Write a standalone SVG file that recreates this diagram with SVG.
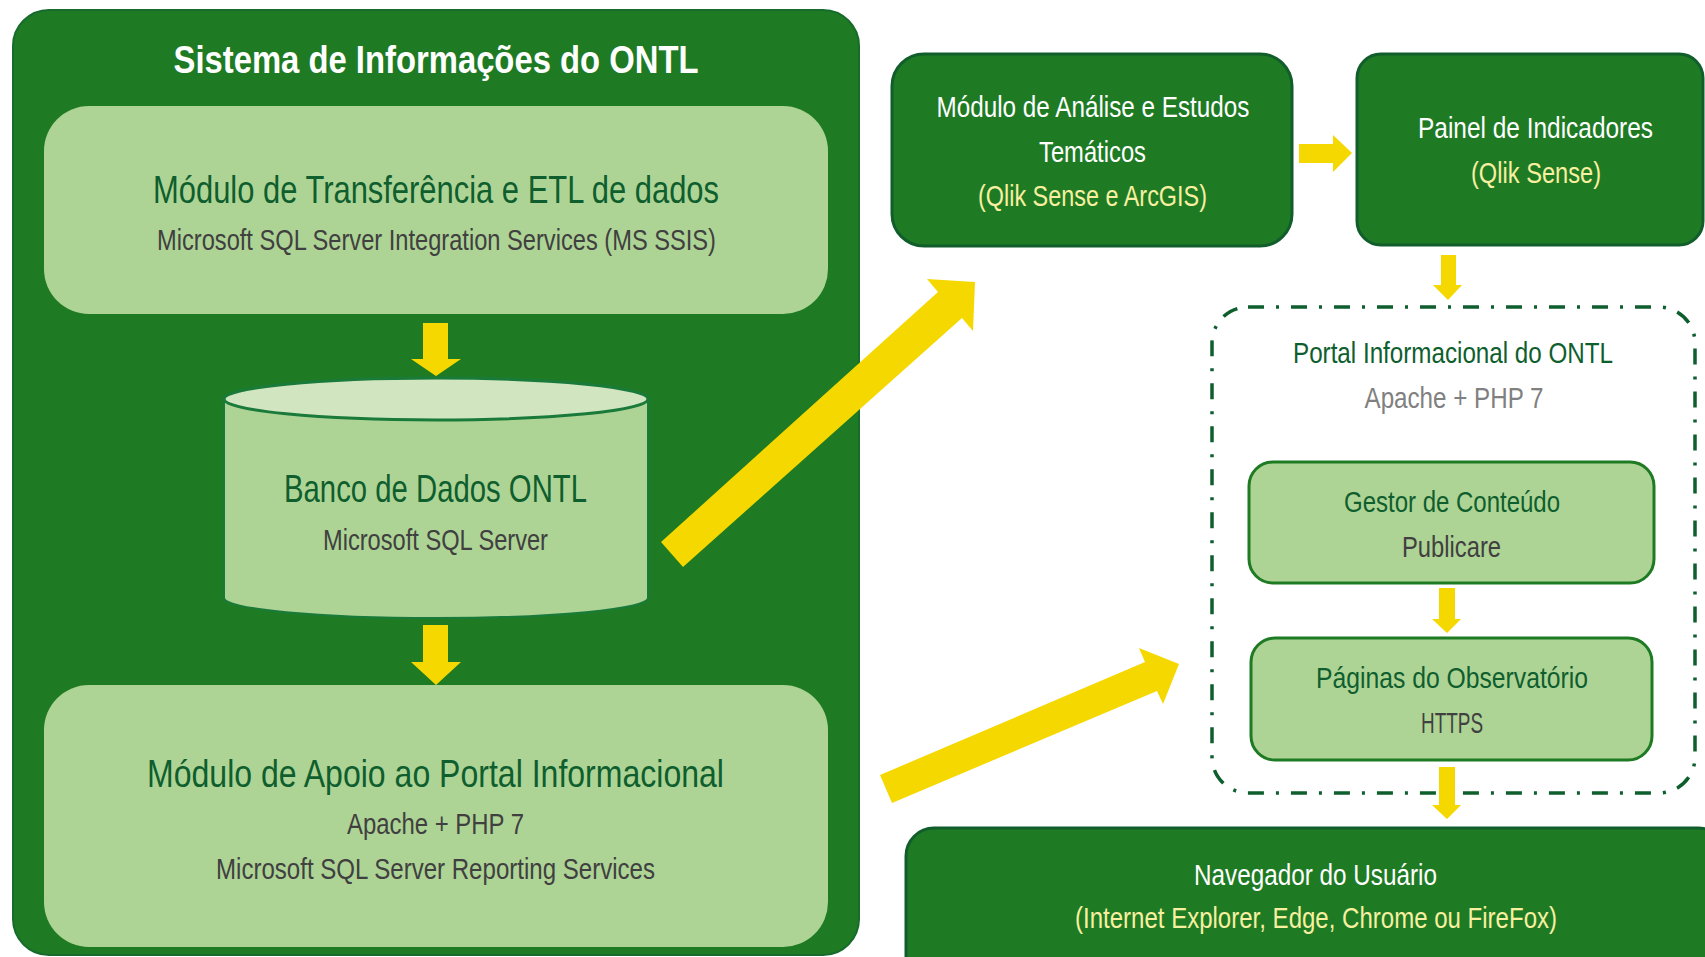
<svg xmlns="http://www.w3.org/2000/svg" width="1705" height="957" viewBox="0 0 1705 957">
<style>
text{font-family:"Liberation Sans Narrow","Liberation Sans",Arial,sans-serif;text-anchor:middle}
.h{font-size:39px;fill:#0E5E2E}
.s{font-size:30px;fill:#404040}
.w{font-size:30px;fill:#FFFFFF}
.y{font-size:30px;fill:#F8EFA0}
.g{font-size:30px;fill:#0E5E2E}
.gr{font-size:30px;fill:#808080}
.dark{fill:#1E7B24;stroke:#115E2C;stroke-width:3}
.light{fill:#AED495}
.lightb{fill:#AED495;stroke:#1E7B24;stroke-width:3}
.arr{fill:#F5D800}
</style>
<rect width="1705" height="957" fill="#FFFFFF"/>
<g id="sistema">
<rect x="13" y="10" width="846" height="945" rx="36" fill="#1E7B24" stroke="#176B2C" stroke-width="2"/>
<text x="436" y="73" style="font-size:39px;font-weight:bold;fill:#FFFFFF" textLength="525" lengthAdjust="spacingAndGlyphs">Sistema de Informações do ONTL</text>
</g>
<g id="transferencia">
<rect x="44" y="106" width="784" height="208" rx="45" class="light"/>
<text x="436" y="203" class="h" textLength="566" lengthAdjust="spacingAndGlyphs">Módulo de Transferência e ETL de dados</text>
<text x="436.5" y="250" class="s" textLength="559" lengthAdjust="spacingAndGlyphs">Microsoft SQL Server Integration Services (MS SSIS)</text>
</g>
<g id="banco">
<path d="M224,399 L224,598 A212,20 0 0 0 648,598 L648,399 Z" fill="#AED495" stroke="#1A7A3A" stroke-width="2"/>
<ellipse cx="436" cy="399" rx="212" ry="21" fill="#D0E5C0" stroke="#1A7A3A" stroke-width="3"/>
<text x="435.5" y="502" class="h" textLength="303" lengthAdjust="spacingAndGlyphs">Banco de Dados ONTL</text>
<text x="435.5" y="550" class="s" textLength="225" lengthAdjust="spacingAndGlyphs">Microsoft SQL Server</text>
</g>
<g id="apoio">
<rect x="44" y="685" width="784" height="262" rx="45" class="light"/>
<text x="435.5" y="787" class="h" textLength="577" lengthAdjust="spacingAndGlyphs">Módulo de Apoio ao Portal Informacional</text>
<text x="435.5" y="834" class="s" textLength="177" lengthAdjust="spacingAndGlyphs">Apache + PHP 7</text>
<text x="435.5" y="879" class="s" textLength="439" lengthAdjust="spacingAndGlyphs">Microsoft SQL Server Reporting Services</text>
</g>
<g id="analise">
<rect x="892" y="54" width="400" height="192" rx="32" class="dark"/>
<text x="1093" y="117" class="w" textLength="313" lengthAdjust="spacingAndGlyphs">Módulo de Análise e Estudos</text>
<text x="1092.5" y="162" class="w" textLength="107" lengthAdjust="spacingAndGlyphs">Temáticos</text>
<text x="1092.5" y="206" class="y" textLength="229" lengthAdjust="spacingAndGlyphs">(Qlik Sense e ArcGIS)</text>
</g>
<g id="painel">
<rect x="1357" y="54" width="346" height="191" rx="24" class="dark"/>
<text x="1535.5" y="138" class="w" textLength="235" lengthAdjust="spacingAndGlyphs">Painel de Indicadores</text>
<text x="1536" y="183" class="y" textLength="130" lengthAdjust="spacingAndGlyphs">(Qlik Sense)</text>
</g>
<g id="portal">
<rect x="1212" y="307" width="483" height="486" rx="36" fill="none" stroke="#0E5E2E" stroke-width="3.5" stroke-dasharray="16 12 3 12"/>
<text x="1453" y="363" class="g" textLength="320" lengthAdjust="spacingAndGlyphs">Portal Informacional do ONTL</text>
<text x="1454" y="408" class="gr" textLength="179" lengthAdjust="spacingAndGlyphs">Apache + PHP 7</text>
</g>
<g id="gestor">
<rect x="1249" y="462" width="405" height="121" rx="24" class="lightb"/>
<text x="1452" y="512" class="g" textLength="216" lengthAdjust="spacingAndGlyphs">Gestor de Conteúdo</text>
<text x="1451.5" y="557" class="s" textLength="99" lengthAdjust="spacingAndGlyphs">Publicare</text>
</g>
<g id="paginas">
<rect x="1251" y="638" width="401" height="122" rx="24" class="lightb"/>
<text x="1452" y="688" class="g" textLength="272" lengthAdjust="spacingAndGlyphs">Páginas do Observatório</text>
<text x="1452" y="733" class="s" textLength="62" lengthAdjust="spacingAndGlyphs">HTTPS</text>
</g>
<g id="navegador">
<rect x="906" y="828" width="820" height="170" rx="28" class="dark"/>
<text x="1315.5" y="885" class="w" textLength="243" lengthAdjust="spacingAndGlyphs">Navegador do Usuário</text>
<text x="1316" y="928" class="y" textLength="482" lengthAdjust="spacingAndGlyphs">(Internet Explorer, Edge, Chrome ou FireFox)</text>
</g>
<g id="connectors">
<polygon class="arr" points="423,323 448,323 448,359 461,359 436,376 411,359 423,359"/>
<polygon class="arr" points="423,625 448,625 448,662 461,662 436,685 411,662 423,662"/>
<polygon class="arr" points="1299,144 1333,144 1333,135 1352,153 1333,172 1333,163 1299,163"/>
<polygon class="arr" points="1441,255 1456,255 1456,285 1462,285 1448,300 1433,285 1441,285"/>
<polygon class="arr" points="1439,588 1455,588 1455,619 1461,619 1447,633 1432,619 1439,619"/>
<polygon class="arr" points="1439,767 1455,767 1455,805 1461,805 1447,819 1432,805 1439,805"/>
<polygon class="arr" points="661,542 938,292 927,279 975,282 973,331 962,318 683,567"/>
<polygon class="arr" points="880,775 1145,662 1139,648 1179,664 1163,704 1157,691 892,803"/>
</g>
</svg>
